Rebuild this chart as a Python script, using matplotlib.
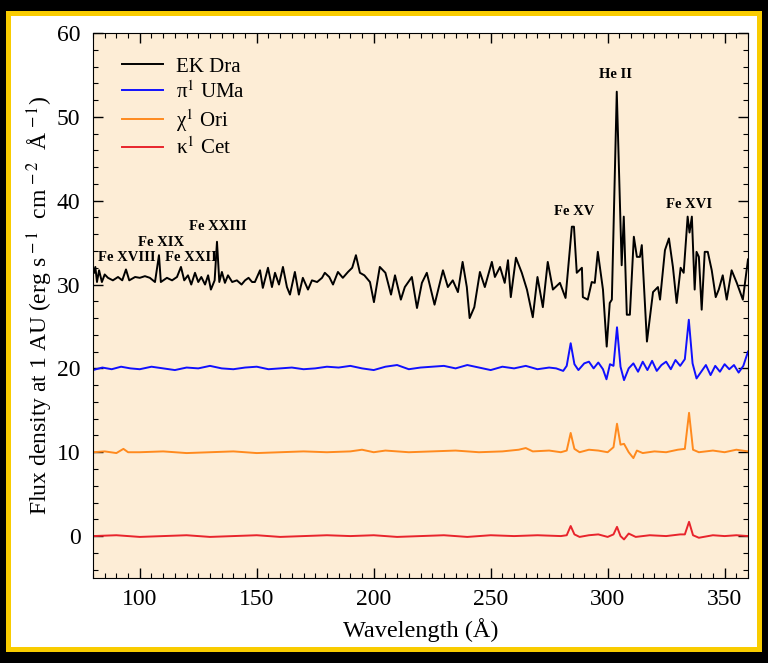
import matplotlib
matplotlib.use("Agg")
import matplotlib.pyplot as plt
from matplotlib.patches import Rectangle
from matplotlib.ticker import MultipleLocator

plt.rcParams['font.family'] = ['Liberation Serif', 'DejaVu Serif']
plt.rcParams['mathtext.fontset'] = 'stix'

# EK Dra (offset +30)
wl_ek = [80.4, 81.0, 81.7, 82.6, 83.8, 85.0, 86.4, 88.5, 90.7, 92.5, 94.1, 95.5, 98.0, 100.0,
         102.2, 104.3, 106.5, 108.2, 109.0, 111.6, 113.8, 115.9, 117.6, 119.0, 120.6, 122.0,
         123.6, 125.0, 126.3, 127.9, 129.2, 130.4, 132.0, 133.0, 134.0, 135.1, 136.4, 137.7,
         139.5, 141.5, 143.5, 145.0, 146.5, 148.0, 149.2, 151.4, 152.6, 154.8, 156.5, 157.8,
         159.5, 161.2, 162.9, 164.2, 166.3, 168.0, 169.7, 171.9, 173.6, 175.8, 177.9, 179.1,
         181.0, 182.6, 184.7, 186.8, 189.0, 190.8, 192.4, 194.1, 196.0, 198.4, 200.1, 202.6,
         205.0, 207.4, 209.1, 211.6, 213.3, 216.3, 218.5, 220.6, 222.7, 226.0, 229.6, 231.7,
         233.8, 236.0, 238.0, 239.8, 241.0, 243.0, 245.4, 247.5, 250.5, 251.8, 254.0, 256.0,
         257.4, 258.6, 260.8, 263.3, 265.5, 268.0, 270.0, 272.3, 274.4, 276.6, 279.6, 282.0,
         284.7, 285.6, 286.8, 289.0, 289.4, 291.5, 293.2, 294.5, 295.8, 298.0, 299.6, 300.9,
         301.8, 303.9, 306.0, 306.9, 308.2, 309.5, 311.2, 312.5, 313.8, 314.6, 316.8, 319.4,
         321.5, 322.4, 324.5, 326.2, 327.9, 329.5, 331.2, 332.5, 334.2, 335.0, 336.0, 337.2,
         338.0, 339.0, 340.2, 341.5, 342.8, 344.5, 346.2, 347.5, 349.2, 350.9, 353.0, 355.2,
         357.8, 360.0]
flux_ek = [31.4, 32.1, 30.3, 31.7, 30.3, 31.2, 30.8, 30.5, 30.9, 30.5, 31.8, 30.5, 30.9, 30.8,
           31.0, 30.8, 30.3, 33.5, 30.3, 30.8, 30.5, 30.9, 32.1, 30.5, 31.1, 30.0,
           31.4, 30.3, 30.9, 30.0, 31.1, 29.4, 30.5, 35.1, 30.3, 31.5, 30.2, 31.1,
           30.3, 30.5, 30.0, 30.5, 30.8, 30.3, 30.3, 31.7, 29.6, 32.0, 29.7, 31.4,
           30.0, 32.1, 29.7, 28.8, 31.5, 28.8, 30.8, 29.4, 30.5, 30.3, 30.8, 31.4,
           30.9, 30.0, 31.5, 30.8, 31.5, 32.0, 33.5, 31.4, 31.1, 30.3, 27.9, 32.1,
           31.4, 28.8, 31.1, 28.2, 29.7, 30.9, 27.2, 30.2, 31.4, 27.6, 31.7, 29.7,
           30.5, 29.1, 32.7, 29.7, 26.0, 27.3, 31.5, 29.7, 32.7, 30.9, 32.1, 30.2,
           32.9, 28.5, 33.2, 31.4, 29.4, 26.1, 30.9, 27.3, 32.7, 29.4, 30.2, 28.4,
           36.9, 36.9, 31.4, 32.0, 28.5, 28.2, 30.3, 30.2, 33.9, 29.4, 22.6, 27.8,
           28.2, 53.0, 32.3, 38.1, 26.4, 26.4, 35.7, 33.3, 33.3, 34.7, 23.2, 29.1,
           29.7, 28.2, 34.1, 35.5, 32.1, 27.8, 32.0, 31.4, 38.1, 36.2, 38.1, 29.4,
           33.9, 33.3, 27.0, 33.9, 33.9, 31.7, 28.5, 29.4, 31.1, 28.2, 31.7, 30.2,
           28.2, 33.0]

# pi1 UMa (offset +20)
wl_pi = [80, 84, 88, 92, 96, 100, 105, 110, 115, 120, 125, 130, 135, 140, 145, 150, 155, 160,
         165, 170, 175, 180, 185, 190, 195, 200, 205, 210, 215, 220, 225, 230, 235, 240, 245,
         250, 255, 260, 265, 270, 275, 278, 281, 282.5, 284.2, 285.8, 287.5, 290, 292, 294,
         296, 298, 299.5, 301, 302.5, 304.0, 305.5, 307, 309, 311, 313, 315, 317, 319, 321,
         323, 325, 327, 329, 331, 333, 334.7, 336.3, 338, 340, 342, 344, 346, 348, 350, 352,
         354, 356, 358, 360]
flux_pi = [19.8, 20.1, 19.9, 20.2, 20.0, 19.9, 20.2, 20.0, 19.8, 20.1, 20.0, 20.3, 20.0, 19.9,
           20.1, 20.2, 19.9, 20.0, 20.1, 19.9, 20.0, 20.2, 20.1, 20.3, 20.0, 19.8, 20.2, 20.4,
           19.9, 20.1, 20.2, 20.3, 20.0, 20.4, 20.1, 19.8, 20.2, 20.0, 20.3, 19.9, 20.1, 20.0,
           19.7, 20.3, 23.0, 20.5, 19.8, 20.6, 20.8, 20.0, 20.7, 19.9, 18.7, 20.5, 20.3, 24.9,
           20.2, 18.6, 20.0, 20.6, 19.6, 20.8, 19.8, 20.9, 19.7, 20.4, 20.8, 19.9, 21.0, 20.3,
           21.1, 25.8, 20.6, 18.8, 19.6, 20.4, 19.2, 20.3, 19.6, 20.5, 19.9, 20.4, 19.5, 20.3,
           22.0]

# chi1 Ori (offset +10)
wl_chi = [80, 85, 90, 93, 95, 100, 110, 120, 130, 140, 150, 160, 170, 180, 190, 195, 200,
          205, 215, 225, 235, 245, 255, 262, 265, 268, 275, 280, 282.5, 284.2, 285.8, 288,
          292, 296, 300, 302.5, 304.0, 305.5, 307, 309, 311, 312.5, 315, 320, 325, 330, 333,
          334.8, 336.5, 339, 345, 350, 355, 360]
flux_chi = [10.0, 10.1, 9.9, 10.4, 10.0, 10.0, 10.1, 9.9, 10.0, 10.1, 9.9, 10.0, 10.1, 10.0,
            10.1, 10.3, 10.0, 10.2, 10.0, 10.1, 10.2, 10.0, 10.1, 10.3, 10.5, 10.1, 10.2, 10.0,
            10.2, 12.3, 10.4, 10.0, 10.3, 10.2, 10.0, 10.6, 13.4, 10.9, 11.0, 10.0, 9.3, 10.2,
            9.9, 10.1, 10.0, 10.3, 10.4, 14.7, 10.3, 10.0, 10.2, 10.0, 10.3, 10.1]

# kappa1 Cet (offset 0)
wl_ka = [80, 90, 100, 110, 120, 130, 140, 150, 160, 170, 180, 190, 200, 210, 220, 230, 240,
         250, 260, 270, 280, 282.5, 284.2, 285.8, 288, 292, 296, 300, 302.5, 304.0, 305.5,
         307, 309, 312, 318, 325, 331, 333, 334.8, 336.5, 339, 345, 350, 355, 360]
flux_ka = [0.0, 0.1, -0.1, 0.0, 0.1, -0.1, 0.0, 0.1, -0.1, 0.0, 0.1, 0.0, 0.1, -0.1, 0.0, 0.1,
           -0.1, 0.1, 0.0, 0.1, 0.0, 0.1, 1.2, 0.2, -0.1, 0.1, 0.2, -0.1, 0.2, 1.1, 0.0,
           -0.4, 0.3, -0.1, 0.1, 0.0, 0.2, 0.2, 1.7, 0.1, -0.2, 0.1, 0.0, 0.1, 0.0]

line_labels = ['Fe XVIII', 'Fe XIX', 'Fe XXII', 'Fe XXIII', 'Fe XV', 'He II', 'Fe XVI']
line_x = [94.5, 109, 122, 133.4, 285.5, 303.5, 335]
line_y = [33.2, 35.0, 33.2, 36.9, 38.7, 55.0, 39.6]

fig = plt.figure(figsize=(7.68, 6.63), dpi=100)
fig.patch.set_facecolor('black')
fig.patches.append(Rectangle((6 / 768, 11 / 663), 756 / 768, 641 / 663,
                             transform=fig.transFigure, facecolor='#f9cc00',
                             edgecolor='none', zorder=-2))
fig.patches.append(Rectangle((11 / 768, 16 / 663), 746 / 768, 631 / 663,
                             transform=fig.transFigure, facecolor='white',
                             edgecolor='none', zorder=-1))

ax = fig.add_axes([93 / 768, 1 - 578 / 663, 655 / 768, 545 / 663])
ax.set_facecolor('#fdedd6')

ax.plot(wl_ek, flux_ek, color='black', lw=1.4, label='EK Dra')
ax.plot(wl_pi, flux_pi, color='#1010ff', lw=1.4, label='π$^{1}$ UMa')
ax.plot(wl_chi, flux_chi, color='#ff8a1e', lw=1.4, label='χ$^{1}$ Ori')
ax.plot(wl_ka, flux_ka, color='#e8242c', lw=1.4, label='κ$^{1}$ Cet')

for t, x, y in zip(line_labels, line_x, line_y):
    ax.text(x, y, t, ha='center', va='center', fontsize=10.5, fontweight='bold')

ax.set_xlim(80, 360)
ax.set_ylim(-5, 60)
ax.xaxis.set_major_locator(MultipleLocator(50))
ax.xaxis.set_minor_locator(MultipleLocator(5))
ax.yaxis.set_major_locator(MultipleLocator(10))
ax.yaxis.set_minor_locator(MultipleLocator(2))
ax.tick_params(which='both', direction='in', top=True, right=True, labelsize=17)
ax.tick_params(which='major', length=7, width=1)
ax.tick_params(axis='y', which='major', pad=9)
ax.tick_params(axis='x', which='major', pad=8)
ax.tick_params(which='minor', length=3.5, width=0.8)

ax.set_xlabel('Wavelength (Å)', fontsize=17.5, labelpad=6)
ax.set_ylabel(r'Flux density at 1 AU (erg s$^{\,-1}$  cm$^{\,-2}$  Å$^{\,-1}$)',
              fontsize=17, labelpad=1)

leg = ax.legend(loc='upper left', bbox_to_anchor=(0.015, 0.99), frameon=False,
                fontsize=15, handlelength=2.0, labelspacing=0.2,
                handletextpad=0.6)

fig.savefig('out.png', dpi=100, facecolor=fig.get_facecolor())
